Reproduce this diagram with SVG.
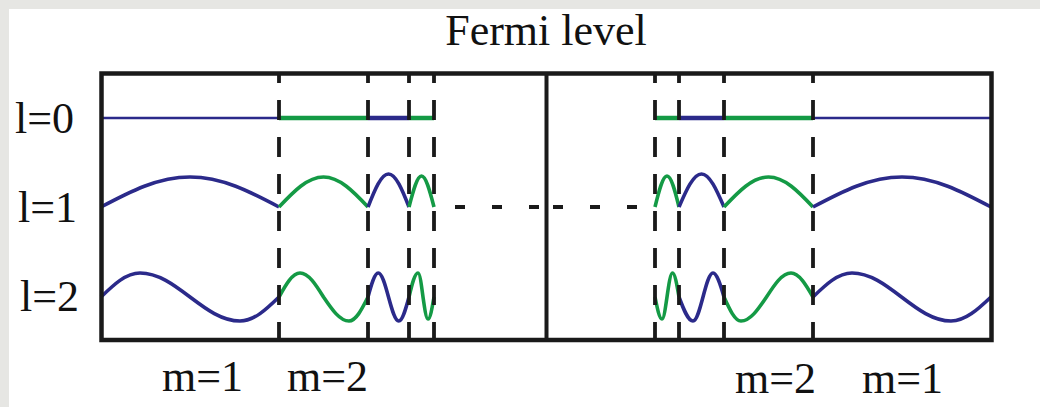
<svg xmlns="http://www.w3.org/2000/svg" width="1040" height="407" viewBox="0 0 1040 407">
<style>
.t{font-family:"Liberation Serif","Times New Roman",serif;font-size:44px;fill:#111}
.b{fill:none;stroke:#2b2a8a;stroke-width:3.6;stroke-linejoin:round}
.g{fill:none;stroke:#149a45;stroke-width:3.6;stroke-linejoin:round}
.bt{stroke:#2b2a8a;stroke-width:2.5}
.b0{stroke:#2b2a8a;stroke-width:4.5}
.g0{stroke:#149a45;stroke-width:4.5}
.d{stroke:#1a1a1a;stroke-width:3.8;stroke-dasharray:20 17;stroke-dashoffset:10}
.h{stroke:#1a1a1a;stroke-width:4.2;stroke-dasharray:10 27}
</style>
<rect x="0" y="0" width="1040" height="407" fill="#e6e6e3"/>
<rect x="9" y="9" width="1031" height="398" fill="#ffffff"/>

<g id="labels">
<text class="t" x="546" y="45" text-anchor="middle">Fermi level</text>
<text class="t" x="15" y="133">l=0</text>
<text class="t" x="18" y="222">l=1</text>
<text class="t" x="20" y="311">l=2</text>
<text class="t" x="162" y="391">m=1</text>
<text class="t" x="287" y="391">m=2</text>
<text class="t" x="735" y="393">m=2</text>
<text class="t" x="862" y="393">m=1</text>
</g>

<g id="l0">
<line class="bt" x1="101" y1="118" x2="279" y2="118"/>
<line class="g0" x1="279" y1="118" x2="368" y2="118"/>
<line class="b0" x1="368" y1="118" x2="409" y2="118"/>
<line class="g0" x1="409" y1="118" x2="434" y2="118"/>
<line class="g0" x1="655" y1="118" x2="679" y2="118"/>
<line class="b0" x1="679" y1="118" x2="724" y2="118"/>
<line class="g0" x1="724" y1="118" x2="813" y2="118"/>
<line class="bt" x1="813" y1="118" x2="991" y2="118"/>
</g>

<g id="l1">
<path class="b" d="M101,207 C130.02,191.63 157.79,177 190,177 C222.21,177 249.98,191.63 279,207"/>
<path class="g" d="M279,207 C293.51,191.63 307.40,177 323.5,177 C339.60,177 353.49,191.63 368,207"/>
<path class="b" d="M368,207 C374.69,190.09 381.08,174 388.5,174 C395.92,174 402.31,190.09 409,207"/>
<path class="g" d="M409,207 C413.08,191.12 416.98,176 421.5,176 C426.02,176 429.92,191.12 434,207"/>
<path class="g" d="M655,207 C658.91,191.12 662.66,176 667,176 C671.34,176 675.09,191.12 679,207"/>
<path class="b" d="M679,207 C686.34,190.09 693.36,174 701.5,174 C709.64,174 716.66,190.09 724,207"/>
<path class="g" d="M724,207 C738.51,191.63 752.40,177 768.5,177 C784.60,177 798.49,191.63 813,207"/>
<path class="b" d="M813,207 C842.02,191.63 869.79,177 902,177 C934.21,177 961.98,191.63 991,207"/>
</g>

<g id="l2">
<path class="b" d="M101,297 C113.72,284.7 125.89,273 140,273 C158.10,273 173.70,284.7 190,297 C206.31,309.3 221.91,321 240,321 C254.11,321 266.28,309.3 279,297"/>
<path class="g" d="M279,297 C285.85,284.7 292.40,273 300,273 C308.50,273 315.84,284.7 323.5,297 C331.82,309.3 339.77,321 349,321 C355.88,321 361.80,309.3 368,297"/>
<path class="b" d="M368,297 C371.34,284.7 374.54,273 378.25,273 C381.96,273 385.16,284.7 388.5,297 C391.84,309.3 395.04,321 398.75,321 C402.46,321 405.66,309.3 409,297"/>
<path class="g" d="M409,297 C411.93,284.7 414.74,273 418,273 C419.81,273 421.37,284.7 423,297 C424.63,308.27 426.19,319 428,319 C430.17,319 432.04,308.27 434,297"/>
<path class="g" d="M655,297 C657.28,308.27 659.47,319 662,319 C663.81,319 665.37,308.27 667,297 C668.79,284.7 670.51,273 672.5,273 C674.85,273 676.88,284.7 679,297"/>
<path class="b" d="M679,297 C683.57,309.3 687.93,321 693,321 C696.62,321 699.74,309.3 703,297 C706.26,284.7 709.38,273 713,273 C716.98,273 720.41,284.7 724,297"/>
<path class="g" d="M724,297 C729.54,309.3 734.85,321 741,321 C750.23,321 758.18,309.3 766.5,297 C774.49,284.7 782.13,273 791,273 C798.96,273 805.83,284.7 813,297"/>
<path class="b" d="M813,297 C825.72,284.7 837.89,273 852,273 C869.91,273 885.36,284.7 901.5,297 C917.64,309.3 933.09,321 951,321 C965.48,321 977.96,309.3 991,297"/>
</g>

<g id="connectors">
<line class="d" x1="279" y1="73" x2="279" y2="340"/>
<line class="d" x1="368" y1="73" x2="368" y2="340"/>
<line class="d" x1="409" y1="73" x2="409" y2="340"/>
<line class="d" x1="434" y1="73" x2="434" y2="340"/>
<line class="d" x1="655" y1="73" x2="655" y2="340"/>
<line class="d" x1="679" y1="73" x2="679" y2="340"/>
<line class="d" x1="724" y1="73" x2="724" y2="340"/>
<line class="d" x1="813" y1="73" x2="813" y2="340"/>
<line class="h" x1="455" y1="207" x2="539" y2="207"/>
<line class="h" x1="553" y1="207" x2="637" y2="207"/>
</g>

<g id="frame">
<rect x="101.5" y="73.5" width="890" height="266.5" fill="none" stroke="#1a1a1a" stroke-width="4.5"/>
<line x1="546.5" y1="73" x2="546.5" y2="340" stroke="#1a1a1a" stroke-width="4"/>
</g>
</svg>
